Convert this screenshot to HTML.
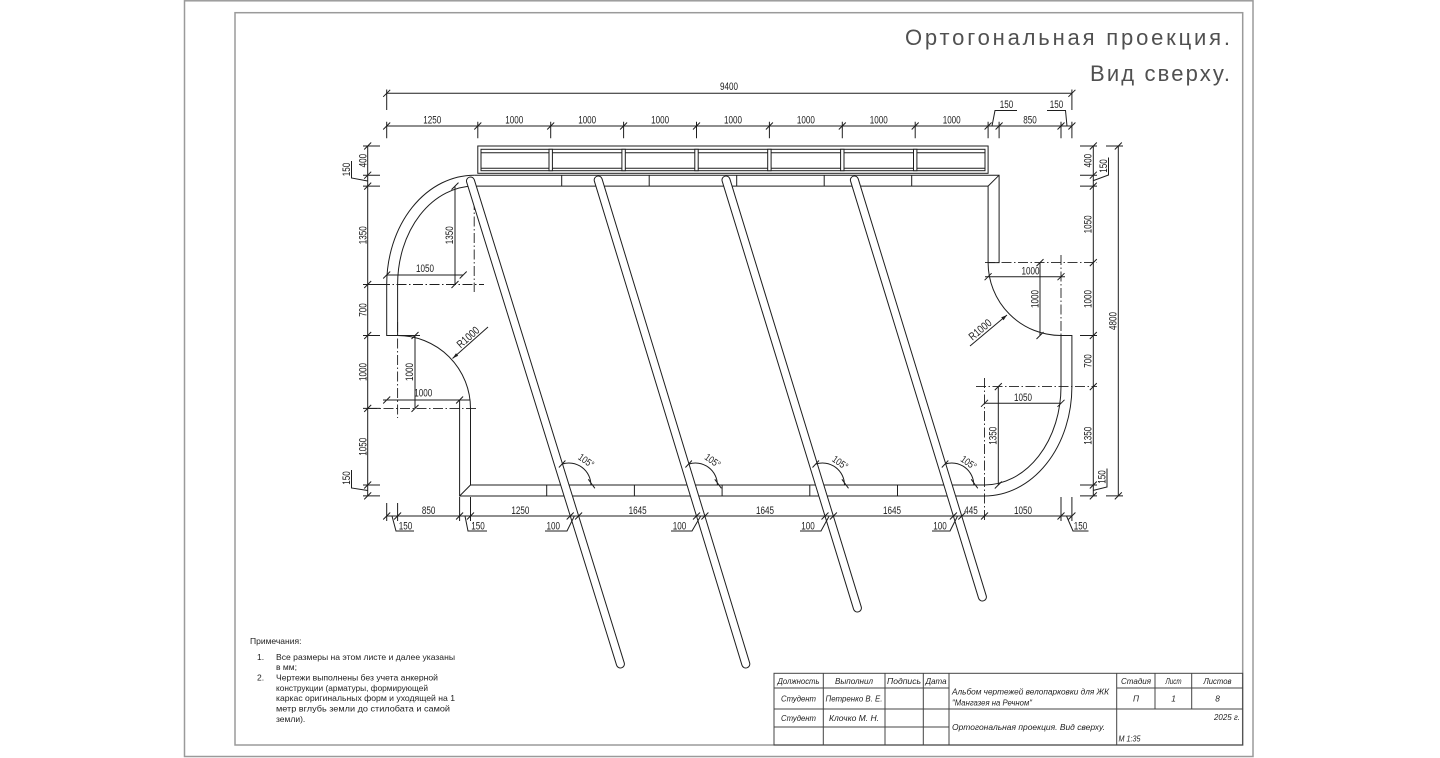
<!DOCTYPE html>
<html><head><meta charset="utf-8">
<style>
html,body{margin:0;padding:0;background:#fff;}
svg{display:block}
.l{stroke:#1e1e1e;stroke-width:1;fill:none}
.dd{stroke:#1e1e1e;stroke-width:0.9;fill:none;stroke-dasharray:10 2.5 1.5 2.5}
.fr{stroke:#9a9a9a;stroke-width:1.5;fill:none}
.tb{stroke:#444;stroke-width:1;fill:none}
text{font-family:"Liberation Sans",sans-serif;fill:#1e1e1e}
.n{font-size:11px}
.nt{font-size:8.5px}
.tt{font-size:8.3px;font-style:italic}
.big{font-size:22px;fill:#505050}
</style></head><body>
<svg width="1440" height="758" viewBox="0 0 1440 758" xmlns="http://www.w3.org/2000/svg">
<rect width="1440" height="758" fill="#fff"/>
<!-- frames -->
<rect class="fr" x="184.5" y="0.8" width="1068.5" height="755.7"/>
<rect class="fr" x="235" y="12.7" width="1007.7" height="732.3"/>

<!-- title -->
<text class="big" x="905" y="45" textLength="325" lengthAdjust="spacing">Ортогональная проекция.</text>
<text class="big" x="1090" y="81" textLength="140" lengthAdjust="spacing">Вид сверху.</text>

<!-- bench -->
<rect class="l" x="477.8" y="146" width="510.3" height="27.3"/>
<rect class="l" x="481" y="149.3" width="504" height="21.4"/>
<path class="l" d="M481 152.7H985M481 168.3H985"/>
<g class="l" fill="#fff" style="fill:#fff">
<rect x="549" y="149.3" width="3.4" height="21.4"/>
<rect x="621.9" y="149.3" width="3.4" height="21.4"/>
<rect x="694.8" y="149.3" width="3.4" height="21.4"/>
<rect x="767.7" y="149.3" width="3.4" height="21.4"/>
<rect x="840.6" y="149.3" width="3.4" height="21.4"/>
<rect x="913.5" y="149.3" width="3.4" height="21.4"/>
</g>

<!-- platform outline -->
<path class="l" d="M474.2 175.2 H999.1 V262.6 H988.1"/>
<path class="l" d="M474.2 186.1 H988.1 V262.6 A72.9 72.9 0 0 0 1061 335.5 H1071.9 V386.6 A87.4 109.4 0 0 1 984.5 496 H459.6 V400"/>
<path class="l" d="M1061 335.5 V386.6 A76.5 98.4 0 0 1 984.5 485 H470.5 V408.4 A72.9 72.9 0 0 0 397.6 335.5 H386.7 V284.5 A87.5 109.3 0 0 1 474.2 175.2"/>
<path class="l" d="M397.6 335.5 V284.5 A76.6 98.4 0 0 1 474.2 186.1"/>
<path class="l" d="M988.1 186.1 L999.1 175.2 M459.6 496 L470.5 485"/>
<path class="l" d="M561.7 175.2V186.1M649.2 175.2V186.1M736.7 175.2V186.1M824.2 175.2V186.1M911.7 175.2V186.1M546.7 485V496M634.4 485V496M722.1 485V496M809.8 485V496M897.5 485V496"/>

<!-- center lines -->
<path class="dd" d="M380 284.5H484M474.2 200V292M367 408.4H478M397.6 322V418M985 262.6H1097M1061 255V345M976 386.6H1097M984.5 378V521"/>

<!-- rods -->
<g stroke-linecap="round" fill="none">
<line x1="470.5" y1="181" x2="620.4" y2="664" stroke="#1e1e1e" stroke-width="9"/>
<line x1="470.5" y1="181" x2="620.4" y2="664" stroke="#fff" stroke-width="7"/>
<line x1="598.2" y1="180" x2="745.8" y2="664" stroke="#1e1e1e" stroke-width="9"/>
<line x1="598.2" y1="180" x2="745.8" y2="664" stroke="#fff" stroke-width="7"/>
<line x1="726" y1="180" x2="857.4" y2="608" stroke="#1e1e1e" stroke-width="9"/>
<line x1="726" y1="180" x2="857.4" y2="608" stroke="#fff" stroke-width="7"/>
<line x1="854.4" y1="180" x2="982.4" y2="597" stroke="#1e1e1e" stroke-width="9"/>
<line x1="854.4" y1="180" x2="982.4" y2="597" stroke="#fff" stroke-width="7"/>
</g>

<!-- angle arcs -->
<path class="l" d="M562.4 464 A22 22 0 0 1 590.9 485 M558.9 467.5 l6.5 -7 M588.3 479.3 l6.6 9
M688.9 464 A22 22 0 0 1 717.4 485 M685.4 467.5 l6.5 -7 M714.8 479.3 l6.6 9
M816 464 A22 22 0 0 1 844.5 485 M812.5 467.5 l6.5 -7 M841.9 479.3 l6.6 9
M945.3 464 A22 22 0 0 1 973.8 485 M941.8 467.5 l6.5 -7 M971.2 479.3 l6.6 9"/>
<g style="font-size:10px">
<text transform="translate(586,461) rotate(35)" y="3" text-anchor="middle" textLength="17" lengthAdjust="spacingAndGlyphs">105°</text>
<text transform="translate(712.5,461) rotate(35)" y="3" text-anchor="middle" textLength="17" lengthAdjust="spacingAndGlyphs">105°</text>
<text transform="translate(840,463) rotate(35)" y="3" text-anchor="middle" textLength="17" lengthAdjust="spacingAndGlyphs">105°</text>
<text transform="translate(968.5,463) rotate(35)" y="3" text-anchor="middle" textLength="17" lengthAdjust="spacingAndGlyphs">105°</text>
</g>

<!-- DIMENSIONS: lines -->
<path class="l" d="M386.7 93.3H1071.9M386.7 89.5V110M1071.9 89.5V110
M386.7 126H1071.9
M386.7 121.7V138.3M477.8 121.7V138.3M550.7 121.7V138.3M623.6 121.7V138.3M696.5 121.7V138.3M769.4 121.7V138.3M842.3 121.7V138.3M915.2 121.7V138.3M988.1 121.7V138.3M999.1 121.7V138.3M1061 121.7V138.3M1071.9 121.7V138.3
M367.7 146V495.9
M363 146H380M363 175.2H380M363 186.1H380M363 284.5H380M363 335.5H380M363 408.4H380M363 485H380M363 495.9H380
M1093.3 146V495.9
M1080 146H1097M1080 175.2H1097M1080 186.1H1097M1080 335.5H1097M1080 485H1097M1080 495.9H1097
M1118.3 146V495.9M1106 146H1123M1106 495.9H1123
M386.7 516H1071.9
M386.7 503V521M397.6 503V521M459.6 497V521M470.5 497V521M1061 497V521M1071.9 497V521
M386.7 275H463.2M455 186.1V284.5
M415 335.5V408.4M397.6 335.5H420M383 400H470.5
M985 276.7H1065M1040 262.6V335.5M984.5 403.3H1061M998.3 386.6V485"/>
<!-- ticks -->
<path class="l" d="M383.2 96.8l7 -7M1068.4 96.8l7 -7
M383.2 129.5l7 -7M474.3 129.5l7 -7M547.2 129.5l7 -7M620.1 129.5l7 -7M693 129.5l7 -7M765.9 129.5l7 -7M838.8 129.5l7 -7M911.7 129.5l7 -7M984.6 129.5l7 -7M995.6 129.5l7 -7M1057.5 129.5l7 -7M1068.4 129.5l7 -7
M364.2 149.5l7 -7M364.2 178.7l7 -7M364.2 189.6l7 -7M364.2 288l7 -7M364.2 339l7 -7M364.2 411.9l7 -7M364.2 488.5l7 -7M364.2 499.4l7 -7
M1089.8 149.5l7 -7M1089.8 178.7l7 -7M1089.8 189.6l7 -7M1089.8 266.1l7 -7M1089.8 339l7 -7M1089.8 390.1l7 -7M1089.8 488.5l7 -7M1089.8 499.4l7 -7
M1114.8 149.5l7 -7M1114.8 499.4l7 -7
M383.2 519.5l7 -7M394.1 519.5l7 -7M456.1 519.5l7 -7M467 519.5l7 -7M566.7 519.5l7 -7M575.1 519.5l7 -7M693 519.5l7 -7M701.4 519.5l7 -7M821.5 519.5l7 -7M829.9 519.5l7 -7M949.9 519.5l7 -7M958.3 519.5l7 -7M981 519.5l7 -7M1057.5 519.5l7 -7M1068.4 519.5l7 -7
M383.2 278.5l7 -7M459.7 278.5l7 -7M451.5 189.6l7 -7M451.5 288l7 -7
M411.5 339l7 -7M411.5 411.9l7 -7M383.2 403.5l7 -7M456.1 403.5l7 -7
M984.6 280.2l7 -7M1057.5 280.2l7 -7M1036.5 266.1l7 -7M1036.5 339l7 -7
M981 406.8l7 -7M1057.5 406.8l7 -7M994.8 390.1l7 -7M994.8 488.5l7 -7"/>
<!-- leaders for small labels -->
<path class="l" d="M992 126L995 110.5H1017M1047 110.5H1065.5L1067 126
M367.7 181L351.5 178V161M367.7 490.5L351.5 488V470
M1093.3 180.6L1108.5 175V157.5M1093.3 490.4L1107 487V468.5
M392 516L396 531H414M465 516L468 531H487
M545 531H567L574.4 516M671 531H692L700.7 516M800 531H821L829.2 516M932 531H950L957.6 516
M1066.5 516L1073 531H1088.5"/>
<!-- R1000 leaders -->
<path class="l" d="M452.5 358.5L488 327M1007 315L970 346"/>
<polygon points="452.5,358.5 458.2,355.8 456,353.2" fill="#1e1e1e"/>
<polygon points="1007,315 1003.6,320.2 1001.2,317.4" fill="#1e1e1e"/>

<!-- DIMENSION TEXT -->
<g class="n" text-anchor="middle" lengthAdjust="spacingAndGlyphs">
<text x="729" y="90" textLength="18" lengthAdjust="spacingAndGlyphs">9400</text>
<text x="432.3" y="123.3" textLength="18" lengthAdjust="spacingAndGlyphs">1250</text>
<text x="514.3" y="123.3" textLength="18" lengthAdjust="spacingAndGlyphs">1000</text>
<text x="587.2" y="123.3" textLength="18" lengthAdjust="spacingAndGlyphs">1000</text>
<text x="660.1" y="123.3" textLength="18" lengthAdjust="spacingAndGlyphs">1000</text>
<text x="733" y="123.3" textLength="18" lengthAdjust="spacingAndGlyphs">1000</text>
<text x="805.9" y="123.3" textLength="18" lengthAdjust="spacingAndGlyphs">1000</text>
<text x="878.8" y="123.3" textLength="18" lengthAdjust="spacingAndGlyphs">1000</text>
<text x="951.7" y="123.3" textLength="18" lengthAdjust="spacingAndGlyphs">1000</text>
<text x="1030" y="123.3" textLength="13.5" lengthAdjust="spacingAndGlyphs">850</text>
<text x="1006.5" y="108" textLength="13.5" lengthAdjust="spacingAndGlyphs">150</text>
<text x="1056.5" y="108" textLength="13.5" lengthAdjust="spacingAndGlyphs">150</text>

<text transform="translate(366.5,160.6) rotate(-90)" textLength="13.5" lengthAdjust="spacingAndGlyphs">400</text>
<text transform="translate(366.5,235.3) rotate(-90)" textLength="18" lengthAdjust="spacingAndGlyphs">1350</text>
<text transform="translate(366.5,310) rotate(-90)" textLength="13.5" lengthAdjust="spacingAndGlyphs">700</text>
<text transform="translate(366.5,372) rotate(-90)" textLength="18" lengthAdjust="spacingAndGlyphs">1000</text>
<text transform="translate(366.5,446.7) rotate(-90)" textLength="18" lengthAdjust="spacingAndGlyphs">1050</text>
<text transform="translate(350,169.5) rotate(-90)" textLength="13.5" lengthAdjust="spacingAndGlyphs">150</text>
<text transform="translate(350,478) rotate(-90)" textLength="13.5" lengthAdjust="spacingAndGlyphs">150</text>

<text transform="translate(1091.5,160.6) rotate(-90)" textLength="13.5" lengthAdjust="spacingAndGlyphs">400</text>
<text transform="translate(1091.5,224.4) rotate(-90)" textLength="18" lengthAdjust="spacingAndGlyphs">1050</text>
<text transform="translate(1091.5,299) rotate(-90)" textLength="18" lengthAdjust="spacingAndGlyphs">1000</text>
<text transform="translate(1091.5,361) rotate(-90)" textLength="13.5" lengthAdjust="spacingAndGlyphs">700</text>
<text transform="translate(1091.5,435.8) rotate(-90)" textLength="18" lengthAdjust="spacingAndGlyphs">1350</text>
<text transform="translate(1107,166) rotate(-90)" textLength="13.5" lengthAdjust="spacingAndGlyphs">150</text>
<text transform="translate(1105.5,477) rotate(-90)" textLength="13.5" lengthAdjust="spacingAndGlyphs">150</text>
<text transform="translate(1116.5,321) rotate(-90)" textLength="18" lengthAdjust="spacingAndGlyphs">4800</text>

<text x="425" y="272" textLength="18" lengthAdjust="spacingAndGlyphs">1050</text>
<text transform="translate(453,235.3) rotate(-90)" textLength="18" lengthAdjust="spacingAndGlyphs">1350</text>
<text transform="translate(413,372) rotate(-90)" textLength="18" lengthAdjust="spacingAndGlyphs">1000</text>
<text x="423.3" y="396.5" textLength="18" lengthAdjust="spacingAndGlyphs">1000</text>

<text x="1030.5" y="274.5" textLength="18" lengthAdjust="spacingAndGlyphs">1000</text>
<text transform="translate(1038.5,299) rotate(-90)" textLength="18" lengthAdjust="spacingAndGlyphs">1000</text>
<text x="1023" y="401" textLength="18" lengthAdjust="spacingAndGlyphs">1050</text>
<text transform="translate(996.5,435.8) rotate(-90)" textLength="18" lengthAdjust="spacingAndGlyphs">1350</text>

<text x="428.6" y="514" textLength="13.5" lengthAdjust="spacingAndGlyphs">850</text>
<text x="520.4" y="514" textLength="18" lengthAdjust="spacingAndGlyphs">1250</text>
<text x="637.6" y="514" textLength="18" lengthAdjust="spacingAndGlyphs">1645</text>
<text x="765" y="514" textLength="18" lengthAdjust="spacingAndGlyphs">1645</text>
<text x="892" y="514" textLength="18" lengthAdjust="spacingAndGlyphs">1645</text>
<text x="971" y="514" textLength="13.5" lengthAdjust="spacingAndGlyphs">445</text>
<text x="1023" y="514" textLength="18" lengthAdjust="spacingAndGlyphs">1050</text>

<text x="405.5" y="529.3" textLength="13.5" lengthAdjust="spacingAndGlyphs">150</text>
<text x="478" y="529.3" textLength="13.5" lengthAdjust="spacingAndGlyphs">150</text>
<text x="553.3" y="529.3" textLength="13.5" lengthAdjust="spacingAndGlyphs">100</text>
<text x="679.5" y="529.3" textLength="13.5" lengthAdjust="spacingAndGlyphs">100</text>
<text x="808" y="529.3" textLength="13.5" lengthAdjust="spacingAndGlyphs">100</text>
<text x="940" y="529.3" textLength="13.5" lengthAdjust="spacingAndGlyphs">100</text>
<text x="1080.5" y="529.3" textLength="13.5" lengthAdjust="spacingAndGlyphs">150</text>

<text transform="translate(470.5,340) rotate(-41.6)" textLength="26" lengthAdjust="spacingAndGlyphs">R1000</text>
<text transform="translate(982.5,332.5) rotate(-40)" textLength="26" lengthAdjust="spacingAndGlyphs">R1000</text>
</g>

<!-- notes -->
<g class="nt">
<text x="250" y="644">Примечания:</text>
<text x="257" y="660">1.</text>
<text x="276" y="660" textLength="179" lengthAdjust="spacingAndGlyphs">Все размеры на этом листе и далее указаны</text>
<text x="276" y="670">в мм;</text>
<text x="257" y="680.5">2.</text>
<text x="276" y="680.5" textLength="162" lengthAdjust="spacingAndGlyphs">Чертежи выполнены без учета анкерной</text>
<text x="276" y="691" textLength="152" lengthAdjust="spacingAndGlyphs">конструкции (арматуры, формирующей</text>
<text x="276" y="701" textLength="179" lengthAdjust="spacingAndGlyphs">каркас оригинальных форм и уходящей на 1</text>
<text x="276" y="711.5" textLength="174" lengthAdjust="spacingAndGlyphs">метр вглубь земли до стилобата и самой</text>
<text x="276" y="722">земли).</text>
</g>

<!-- title block -->
<rect class="tb" x="774" y="673.3" width="468.7" height="71.7"/>
<path class="tb" d="M823.3 673.3V745M885 673.3V745M923.3 673.3V745M949 673.3V745M1116.7 673.3V745M1155 673.3V709M1191.7 673.3V709
M774 688H949M774 709H949M774 727H949M1116.7 688H1242.7M1116.7 709H1242.7M949 709H1116.7"/>
<g class="tt" text-anchor="middle">
<text x="798.5" y="684" textLength="42" lengthAdjust="spacingAndGlyphs">Должность</text>
<text x="854" y="684" textLength="38" lengthAdjust="spacingAndGlyphs">Выполнил</text>
<text x="904" y="684" textLength="34" lengthAdjust="spacingAndGlyphs">Подпись</text>
<text x="936" y="684" textLength="21" lengthAdjust="spacingAndGlyphs">Дата</text>
<text x="1136" y="684" textLength="30" lengthAdjust="spacingAndGlyphs">Стадия</text>
<text x="1173.5" y="684" textLength="16" lengthAdjust="spacingAndGlyphs">Лист</text>
<text x="1217.5" y="684" textLength="28" lengthAdjust="spacingAndGlyphs">Листов</text>
<text x="798.5" y="701.5" textLength="35" lengthAdjust="spacingAndGlyphs">Студент</text>
<text x="854" y="701.5" textLength="57" lengthAdjust="spacingAndGlyphs">Петренко В. Е.</text>
<text x="1136" y="701.5">П</text>
<text x="1173.5" y="701.5">1</text>
<text x="1217.5" y="701.5">8</text>
<text x="798.5" y="721" textLength="35" lengthAdjust="spacingAndGlyphs">Студент</text>
<text x="854" y="721" textLength="50" lengthAdjust="spacingAndGlyphs">Клочко М. Н.</text>
</g>
<g class="tt">
<text x="952" y="694.5" textLength="157" lengthAdjust="spacingAndGlyphs">Альбом чертежей велопарковки для ЖК</text>
<text x="952" y="705.5" textLength="80" lengthAdjust="spacingAndGlyphs">"Мангазея на Речном"</text>
<text x="952" y="730" textLength="153" lengthAdjust="spacingAndGlyphs">Ортогональная проекция. Вид сверху.</text>
<text x="1240" y="720" text-anchor="end" textLength="26" lengthAdjust="spacingAndGlyphs">2025 г.</text>
<text x="1118.5" y="741.5" textLength="22" lengthAdjust="spacingAndGlyphs">М 1:35</text>
</g>
</svg>
</body></html>
